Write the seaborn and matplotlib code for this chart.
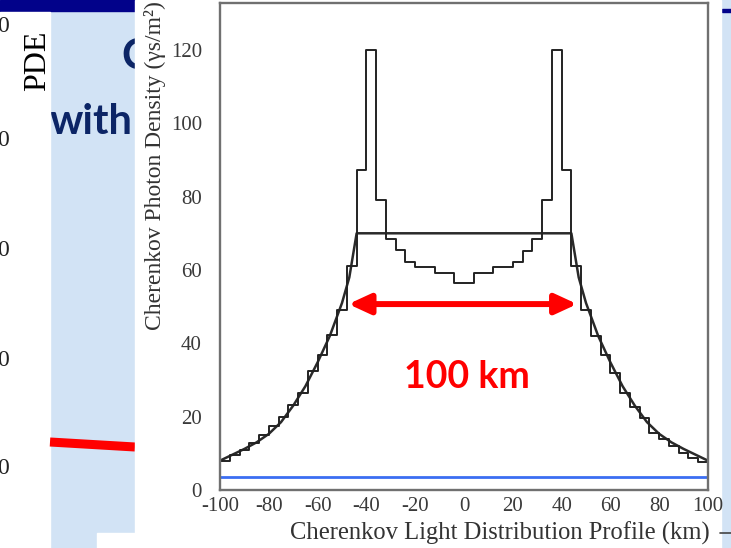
import numpy as np
import pandas as pd
import matplotlib
matplotlib.use("Agg")
import matplotlib.pyplot as plt
from matplotlib.patches import Rectangle
from matplotlib.ticker import MultipleLocator
import seaborn as sns

# ---- data -------------------------------------------------------------
bin_edges = np.arange(-100, 101, 4)
hist_vals = [7.8, 9.5, 11.0, 12.7, 15.0, 17.5, 20.0, 23.2, 26.5, 32.5,
             36.8, 42.3, 49.1, 61.0, 87.3, 120.0, 79.1, 68.4, 65.5, 62.3,
             60.9, 60.9, 59.1, 59.1, 56.4,
             56.4, 59.1, 59.1, 60.9, 60.9, 62.3, 65.2, 68.4, 79.1, 120.0,
             87.3, 61.0, 49.1, 42.0, 36.8, 32.0, 26.4, 22.7, 19.5, 15.5,
             14.0, 12.0, 10.0, 8.8, 7.5]

curve_x = [-100, -95, -90, -85, -80, -75, -70, -65, -60, -55, -50, -47, -44,
           44, 47, 50, 55, 60, 65, 70, 75, 80, 85, 90, 95, 100]
curve_y = [8.0, 9.6, 11.2, 13.0, 15.3, 18.5, 23.0, 28.3, 34.8, 42.0, 51.0, 58.0, 70.0,
           70.0, 58.0, 51.0, 42.0, 34.8, 28.3, 23.0, 18.5, 15.3, 13.0, 11.2, 9.6, 8.0]

level_x = [-100, 100]
level_y = [3.5, 3.5]

x_ticks = [-100, -80, -60, -40, -20, 0, 20, 40, 60, 80, 100]
y_ticks = [0, 20, 40, 60, 80, 100, 120]

span_start, span_end, span_y = -47.4, 46.4, 50.7
span_label = "100 km"

hist_df = pd.DataFrame({
    "position": (bin_edges[:-1] + bin_edges[1:]) / 2,
    "density": hist_vals,
})

# ---- style ------------------------------------------------------------
sns.set_style("white")
plt.rcParams["font.family"] = ["Liberation Serif", "DejaVu Serif"]

W, H = 731, 548
fig = plt.figure(figsize=(W / 100, H / 100), dpi=100)

# slide backdrop in pixel coordinates
bg = fig.add_axes([0, 0, 1, 1], zorder=0)
bg.set_xlim(0, W)
bg.set_ylim(H, 0)
bg.axis("off")
bg.add_patch(Rectangle((0, 0), W, H, color="#d2e3f5", zorder=0))
bg.add_patch(Rectangle((0, 0), 135, 11, color="#02028a", zorder=1))
bg.add_patch(Rectangle((722, 9), 9, 3, color="#02028a", zorder=1))
title_clip = Rectangle((0, 0), 135, H, transform=bg.transData)
for tx, ty, s in [(121, 69, "C"), (50, 134, "with")]:
    t = bg.text(tx, ty, s, color="#0c2566", fontsize=30, fontweight="bold",
                family="Lato", ha="left", va="baseline", zorder=2)
    t.set_clip_path(title_clip)
bg.add_patch(Rectangle((0, 12), 50, H - 12, color="white", zorder=3))
for yy in [26, 140, 250, 360, 469]:
    bg.text(9, yy, "0", fontsize=17, color="#222222", ha="right", va="center",
            family="Liberation Serif", zorder=4)
bg.text(38, 61, "PDE", fontsize=23, color="black", rotation=90, ha="center",
        va="center", family="Liberation Serif", zorder=4)
bg.plot([50, 135], [442, 447], color="#ff0000", lw=6.5, solid_capstyle="butt", zorder=4)
bg.add_patch(Rectangle((97, 533), 38, 15, color="white", zorder=4))
bg.add_patch(Rectangle((135, 0), 586, H, color="white", zorder=5))
bg.plot([720, 731], [533, 533], color="#444444", lw=1.2, zorder=6)

# ---- chart ------------------------------------------------------------
ax = fig.add_axes([220 / W, 1 - 490 / H, 488 / W, 487 / H], zorder=2)
ax.set_facecolor("none")

sns.lineplot(x=level_x, y=level_y, ax=ax, color="#3b6ef2", lw=2.0)
sns.lineplot(x=curve_x, y=curve_y, ax=ax, color="#2a2a2a", lw=1.8,
             sort=False, estimator=None)
sns.histplot(data=hist_df, x="position", weights="density",
             bins=list(bin_edges), element="step", fill=False, color="#222222",
             lw=1.4, ax=ax)

ax.annotate("", xy=(span_start, span_y), xytext=(span_end, span_y),
            arrowprops=dict(arrowstyle="<|-|>,head_length=13,head_width=6",
                            mutation_scale=1, color="#ff0000", lw=4.3,
                            shrinkA=0, shrinkB=0))
ax.text((span_start + span_end) / 2 + 1.5, 30.7, span_label, color="#ff0000",
        fontsize=27, fontweight="bold", family="Lato", ha="center", va="center")

ax.set_xlim(-100, 100)
ax.set_ylim(0, 132.8)
ax.set_xticks(x_ticks)
ax.set_xticklabels([str(t) for t in x_ticks])
ax.set_yticks(y_ticks)
ax.set_yticklabels([str(t) for t in y_ticks])
ax.xaxis.set_minor_locator(MultipleLocator(5))
ax.yaxis.set_minor_locator(MultipleLocator(5))
ax.tick_params(which="both", direction="in", color="#777777", width=1.0,
               labelcolor="#3a3a3a", labelsize=15, top=False, right=False)
ax.tick_params(which="major", length=6)
ax.tick_params(which="minor", length=3.5)
ax.tick_params(axis="x", pad=5)
ax.tick_params(axis="y", pad=13)
for s in ax.spines.values():
    s.set_color("#707070")
    s.set_linewidth(1.7)
ax.set_xlabel("")
ax.set_ylabel("")

fig.text(710 / W, 1 - 533 / H, "Cherenkov Light Distribution Profile (km)",
         fontsize=17.7, color="#333333", ha="right", va="center")
fig.text(155 / W, 1 - 1 / H, "Cherenkov Photon Density (γs/m²)",
         fontsize=17, color="#333333", rotation=90, ha="center", va="top")

fig.savefig("out.png", dpi=100)
